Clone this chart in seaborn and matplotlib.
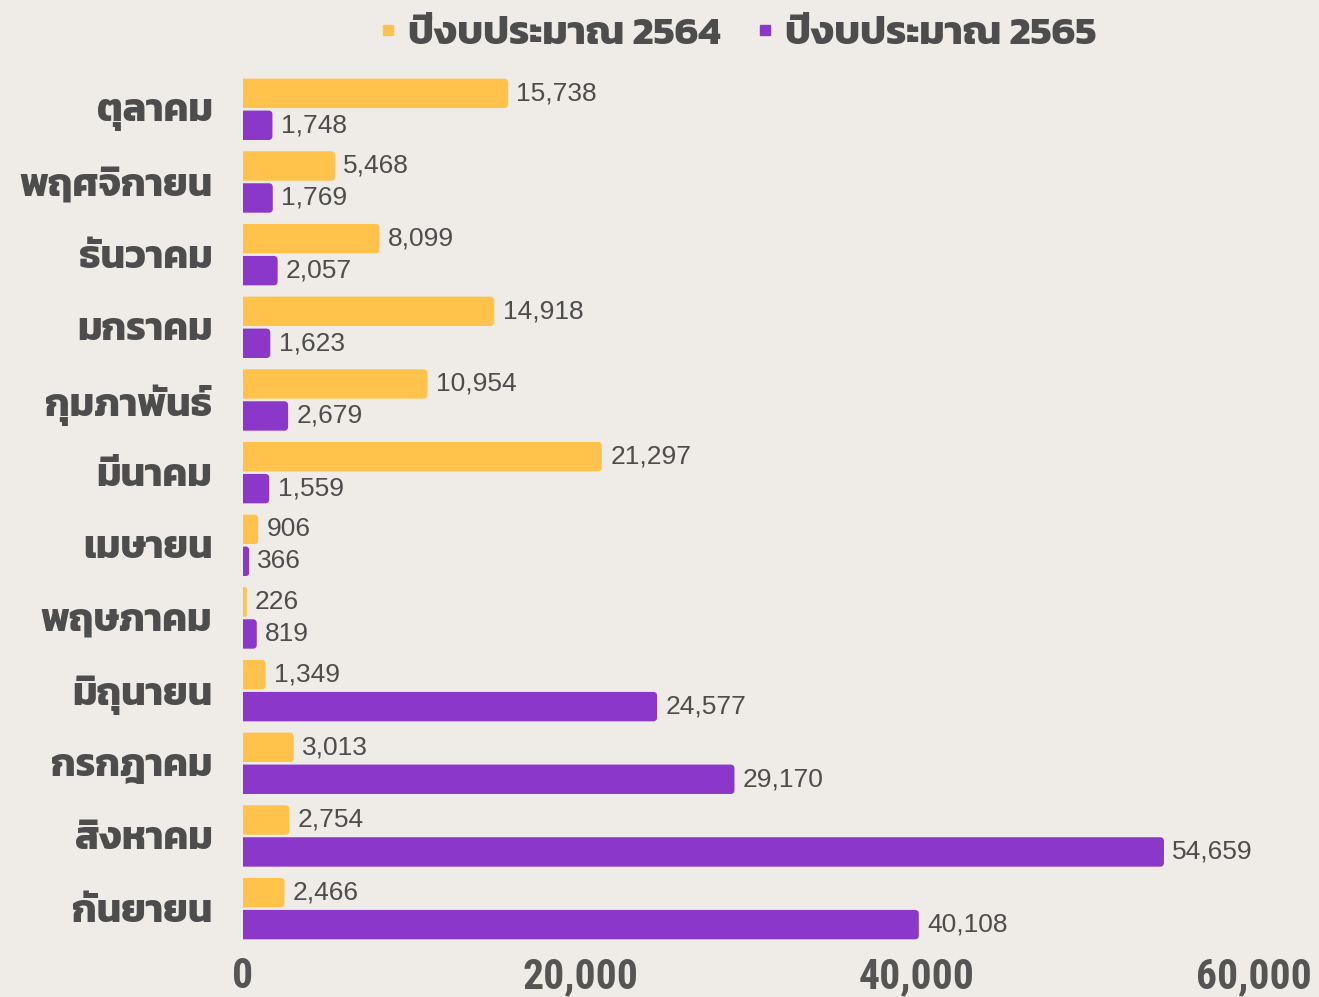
import matplotlib
matplotlib.use("Agg")
import matplotlib.pyplot as plt
import seaborn as sns
import pandas as pd
from matplotlib.patches import FancyBboxPatch

# data
months = ["ตุลาคม", "พฤศจิกายน", "ธันวาคม", "มกราคม", "กุมภาพันธ์", "มีนาคม",
          "เมษายน", "พฤษภาคม", "มิถุนายน", "กรกฎาคม", "สิงหาคม", "กันยายน"]
budget_2564 = [15738, 5468, 8099, 14918, 10954, 21297, 906, 226, 1349, 3013, 2754, 2466]
budget_2565 = [1748, 1769, 2057, 1623, 2679, 1559, 366, 819, 24577, 29170, 54659, 40108]
series = ["ปีงบประมาณ 2564", "ปีงบประมาณ 2565"]
colors = ["#FFC24A", "#8B37C9"]
x_ticks = [0, 20000, 40000, 60000]

df = pd.DataFrame({
    "month": months * 2,
    "value": budget_2564 + budget_2565,
    "series": [series[0]] * len(months) + [series[1]] * len(months),
})

bg = "#EFECE8"
text_col = "#4D4D4D"
thai = ["Kanit", "DejaVu Sans"]

sns.set_theme(style="white")
plt.rcParams["font.family"] = ["Liberation Sans", "DejaVu Sans"]

fig = plt.figure(figsize=(13.19, 9.97), dpi=100, facecolor=bg)
ax = fig.add_axes([0.1842, 0.0522, 0.7665, 0.8746])
ax.set_facecolor(bg)

sns.barplot(data=df, y="month", x="value", hue="series", order=months,
            hue_order=series, palette=colors, orient="h", width=0.88, gap=0.08,
            saturation=1, ax=ax)

for cont in ax.containers:
    ax.bar_label(cont, labels=[f"{v:,.0f}" for v in cont.datavalues],
                 padding=6, fontsize=19, color=text_col)

ax.set_xlim(0, 60000)
ax.set_ylim(len(months) - 0.5, -0.5)

# swap the flat bars for rounded ones
px_x = 60000 / (0.7665 * 1319)
px_y = len(months) / (0.8746 * 997)
for bar in list(ax.patches):
    x, y = bar.get_x(), bar.get_y()
    w, h = bar.get_width(), bar.get_height()
    r = min(4 * px_x, w / 2)
    fb = FancyBboxPatch((x - r, y), w + r, h,
                        boxstyle=f"round,pad=0,rounding_size={r}",
                        mutation_aspect=px_y / px_x,
                        facecolor=bar.get_facecolor(), edgecolor="none")
    bar.remove()
    ax.add_patch(fb)

ax.legend_.remove()
handles = [plt.Line2D([], [], marker="s", linestyle="none", markersize=7,
                      color=c) for c in colors]
leg = fig.legend(handles, series, loc="center", bbox_to_anchor=(0.555, 0.966),
                 ncol=2, frameon=False, handletextpad=0.0, handlelength=1.0,
                 columnspacing=0.6,
                 prop={"family": thai, "weight": "bold", "size": 29})
for t in leg.get_texts():
    t.set_color(text_col)

ax.set_xticks(x_ticks)
ax.set_xticklabels([f"{v:,}" for v in x_ticks])
ax.tick_params(axis="x", length=0, pad=8, labelsize=30, labelcolor="#555555")
ax.tick_params(axis="y", length=0, pad=22, labelsize=28, labelcolor=text_col)
for t in ax.get_xticklabels():
    t.set_family(["Roboto Condensed", "Kanit", "DejaVu Sans"])
    t.set_weight("bold")
for t in ax.get_yticklabels():
    t.set_family(thai)
    t.set_weight("bold")

ax.set_xlabel("")
ax.set_ylabel("")
sns.despine(ax=ax, left=True, bottom=True)

fig.savefig("out.png", facecolor=bg)
